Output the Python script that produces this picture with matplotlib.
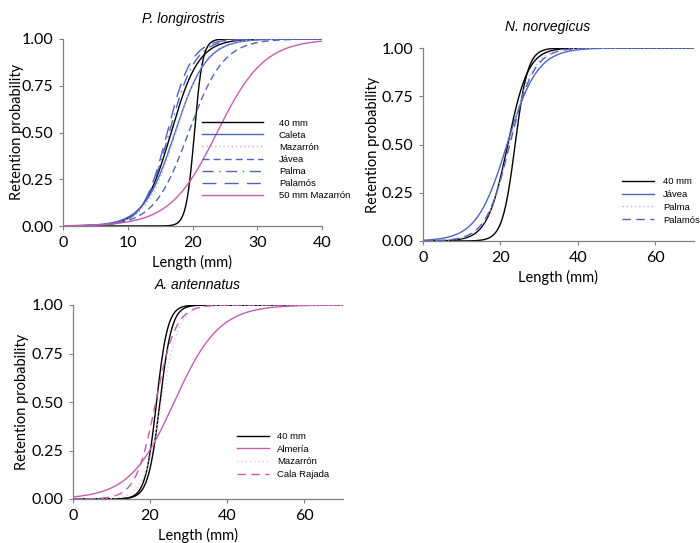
import numpy as np
import matplotlib
matplotlib.use("Agg")
import matplotlib.pyplot as plt

# logistic selection curves: L50 and selection range (SR)
# P. longirostris
pl_labels = ["40 mm", "_40 mm b", "Caleta", "Mazarrón", "Jávea", "Palma", "Palamós", "50 mm Mazarrón"]
pl_l50 = [20.3, 16.7, 17.3, 17.4, 19.4, 16.4, 16.1, 23.8]
pl_sr = [1.4, 4.7, 5.3, 5.0, 5.9, 4.4, 4.1, 8.0]

# N. norvegicus
nn_labels = ["40 mm", "_40 mm b", "Jávea", "Palma", "Palamós"]
nn_l50 = [23.8, 21.9, 21.7, 22.3, 22.4]
nn_sr = [3.6, 5.8, 8.6, 6.5, 6.8]

# A. antennatus
aa_labels = ["40 mm", "_40 mm b", "Almería", "Mazarrón", "Cala Rajada"]
aa_l50 = [21.7, 22.6, 26.3, 23.0, 21.5]
aa_sr = [3.2, 3.4, 12.8, 5.0, 5.7]

BLUE = "#4f63c2"
PINK = "#c75caf"
LIGHT = "#aab4e0"

pl_styles = [("black", "-"), ("black", "-"), (BLUE, "-"), (LIGHT, (0, (1, 2))),
             (BLUE, (0, (5, 3))), (BLUE, (0, (8, 4, 1, 4))), (BLUE, (0, (10, 6))), (PINK, "-")]
nn_styles = [("black", "-"), ("black", "-"), (BLUE, "-"), (LIGHT, (0, (1, 2))), (BLUE, (0, (6, 4)))]
aa_styles = [("black", "-"), ("black", "-"), (PINK, "-"), ("#e3c6dc", (0, (1, 2))), (PINK, (0, (6, 4)))]


def retention(L, l50, sr):
    return 1.0 / (1.0 + np.exp(-2 * np.log(3) * (L - l50) / sr))


def draw_panel(ax, labels, l50s, srs, styles, xmax, xticks):
    L = np.linspace(0, xmax, 400)
    for lab, a, s, (c, ls) in zip(labels, l50s, srs, styles):
        ax.plot(L, retention(L, a, s), color=c, linestyle=ls, lw=1.0, label=lab)
    ax.set_xlim(0, xmax)
    ax.set_ylim(0, 1)
    ax.set_xticks(xticks)
    ax.set_yticks([0, 0.25, 0.5, 0.75, 1.0])
    ax.set_yticklabels(["0.00", "0.25", "0.50", "0.75", "1.00"])
    for sp in ["top", "right"]:
        ax.spines[sp].set_visible(False)
    for sp in ["left", "bottom"]:
        ax.spines[sp].set_color("#808080")
        ax.spines[sp].set_linewidth(0.9)
    ax.tick_params(direction="out", length=3, width=0.8, color="#808080",
                   labelsize=11.5, pad=4)
    for t in ax.get_xticklabels() + ax.get_yticklabels():
        t.set_family("Lato")


fig = plt.figure(figsize=(7, 5.43), dpi=100)

ax1 = fig.add_axes([63 / 700, 1 - 226 / 543, 259 / 700, 187 / 543])
draw_panel(ax1, pl_labels, pl_l50, pl_sr, pl_styles, 40, [0, 10, 20, 30, 40])

ax2 = fig.add_axes([423 / 700, 1 - 241 / 543, 271 / 700, 193 / 543])
draw_panel(ax2, nn_labels, nn_l50, nn_sr, nn_styles, 70, [0, 20, 40, 60])

ax3 = fig.add_axes([73 / 700, 1 - 499 / 543, 269.5 / 700, 194 / 543])
draw_panel(ax3, aa_labels, aa_l50, aa_sr, aa_styles, 70, [0, 20, 40, 60])

# titles and axis labels
tkw = dict(family="Liberation Sans", style="italic", fontsize=10, ha="center", va="center")
fig.text(183 / 700, 1 - 19 / 543, "P. longirostris", **tkw)
fig.text(548 / 700, 1 - 27 / 543, "N. norvegicus", **tkw)
fig.text(198 / 700, 1 - 285 / 543, "A. antennatus", **tkw)

lkw = dict(family="Lato", fontsize=10.5, ha="center", va="center")
fig.text(17 / 700, 1 - 132 / 543, "Retention probability", rotation=90, **lkw)
fig.text(373 / 700, 1 - 145 / 543, "Retention probability", rotation=90, **lkw)
fig.text(22 / 700, 1 - 402 / 543, "Retention probability", rotation=90, **lkw)
fig.text(192 / 700, 1 - 262 / 543, "Length (mm)", **lkw)
fig.text(558 / 700, 1 - 277 / 543, "Length (mm)", **lkw)
fig.text(198 / 700, 1 - 535 / 543, "Length (mm)", **lkw)

legkw = dict(frameon=False, prop={"family": "Liberation Sans", "size": 6.8},
             handlelength=6.4, handletextpad=1.7, labelspacing=0.33, borderpad=0)
ax1.legend(loc="upper left", bbox_to_anchor=(0.52, 0.6), **legkw)
leg2 = dict(legkw)
leg2["handlelength"] = 3.4
leg2["handletextpad"] = 0.9
leg2["labelspacing"] = 0.4
ax2.legend(loc="upper left", bbox_to_anchor=(0.718, 0.355), **leg2)
ax3.legend(loc="upper left", bbox_to_anchor=(0.59, 0.37), **leg2)

fig.savefig("out.png", dpi=100)
